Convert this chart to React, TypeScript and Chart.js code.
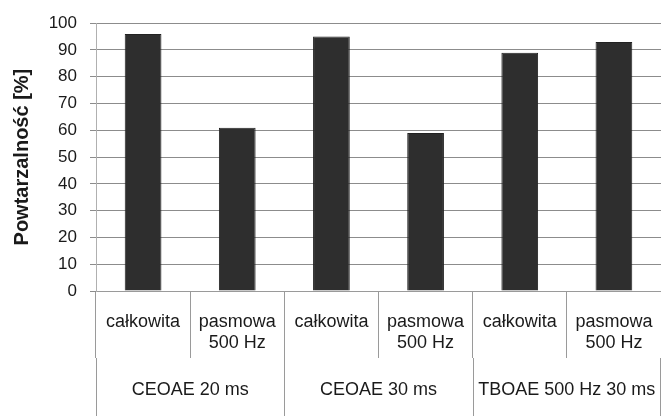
import React, { useEffect, useRef } from "react";
import { Chart, registerables } from "chart.js";

Chart.register(...registerables);

const subLabels: string[][] = [
  ["całkowita"],
  ["pasmowa", "500 Hz"],
  ["całkowita"],
  ["pasmowa", "500 Hz"],
  ["całkowita"],
  ["pasmowa", "500 Hz"],
];
const groupLabels: string[] = ["CEOAE 20 ms", "CEOAE 30 ms", "TBOAE 500 Hz 30 ms"];
const groupSizes: number[] = [2, 2, 2];
const values: number[] = [96, 61, 95, 59, 89, 93];
const yTicks: number[] = [0, 10, 20, 30, 40, 50, 60, 70, 80, 90, 100];
const yTitle = "Powtarzalność [%]";

const FONT = "'Liberation Sans', Arial, sans-serif";

const labelPlugin = {
  id: "hierLabels",
  afterDraw(chart: any) {
    const ctx = chart.ctx;
    const x = chart.scales.x;
    const area = chart.chartArea;
    const n = subLabels.length;
    const step = n > 1 ? x.getPixelForValue(1) - x.getPixelForValue(0) : x.width;
    const sepBottom = area.bottom + 67;
    const bottom = chart.height;
    ctx.save();
    ctx.strokeStyle = "#9a9a9a";
    ctx.lineWidth = 1;
    let idx = 0;
    const bounds: number[] = [0];
    groupSizes.forEach((s) => {
      idx += s;
      bounds.push(idx);
    });
    bounds.forEach((b) => {
      let px = x.getPixelForValue(b) - step / 2;
      px = Math.min(px, chart.width - 1);
      px = Math.round(px) + 0.5;
      ctx.beginPath();
      ctx.moveTo(px, sepBottom);
      ctx.lineTo(px, bottom);
      ctx.stroke();
    });
    ctx.fillStyle = "#1a1a1a";
    ctx.font = `18px ${FONT}`;
    ctx.textAlign = "center";
    ctx.textBaseline = "middle";
    subLabels.forEach((lines, i) => {
      const cx = x.getPixelForValue(i);
      lines.forEach((t, j) => {
        ctx.fillText(t, cx, area.bottom + 31 + j * 21);
      });
    });
    let start = 0;
    groupSizes.forEach((s, g) => {
      const a = x.getPixelForValue(start) - step / 2;
      const b = x.getPixelForValue(start + s - 1) + step / 2;
      ctx.fillText(groupLabels[g], (a + b) / 2, area.bottom + 99);
      start += s;
    });
    ctx.restore();
  },
};

export default function App() {
  const ref = useRef<HTMLCanvasElement | null>(null);
  useEffect(() => {
    document.body.style.margin = "0";
    const canvas = ref.current!;
    const chart = new Chart(canvas, {
      type: "bar",
      data: {
        labels: subLabels.map((l) => l.join(" ")),
        datasets: [
          {
            data: values,
            backgroundColor: "#2e2e2e",
            borderColor: "#222222",
            borderWidth: 1,
            barPercentage: 0.39,
            categoryPercentage: 1,
          },
        ],
      },
      options: {
        animation: false,
        responsive: false,
        devicePixelRatio: 1,
        layout: { padding: { top: 23, right: 0, left: 0, bottom: 0 } },
        plugins: { legend: { display: false }, tooltip: { enabled: false } },
        scales: {
          x: {
            type: "category",
            ticks: { display: false },
            grid: {
              offset: true,
              drawOnChartArea: false,
              drawTicks: true,
              tickLength: 67,
              color: "#9a9a9a",
            },
            border: { display: true, color: "#9a9a9a" },
            afterFit: (s: any) => {
              s.height = 125;
            },
          },
          y: {
            min: 0,
            max: 100,
            afterBuildTicks: (s: any) => {
              s.ticks = yTicks.map((v) => ({ value: v }));
            },
            ticks: {
              stepSize: 10,
              color: "#1a1a1a",
              font: { family: FONT, size: 17 },
              padding: 13,
            },
            grid: { color: "#8c8c8c", tickLength: 6 },
            border: { display: true, color: "#b0b0b0" },
            title: {
              display: true,
              text: yTitle,
              color: "#1a1a1a",
              font: { family: FONT, size: 20, weight: "bold" },
              padding: { top: 10, bottom: 0 },
            },
            afterFit: (s: any) => {
              s.width = 96;
            },
          },
        },
      },
      plugins: [labelPlugin],
    });
    return () => chart.destroy();
  }, []);
  return (
    <div style={{ position: "absolute", left: 0, top: 0, width: 661, height: 416, background: "#fff" }}>
      <canvas ref={ref} width={661} height={416} />
    </div>
  );
}
